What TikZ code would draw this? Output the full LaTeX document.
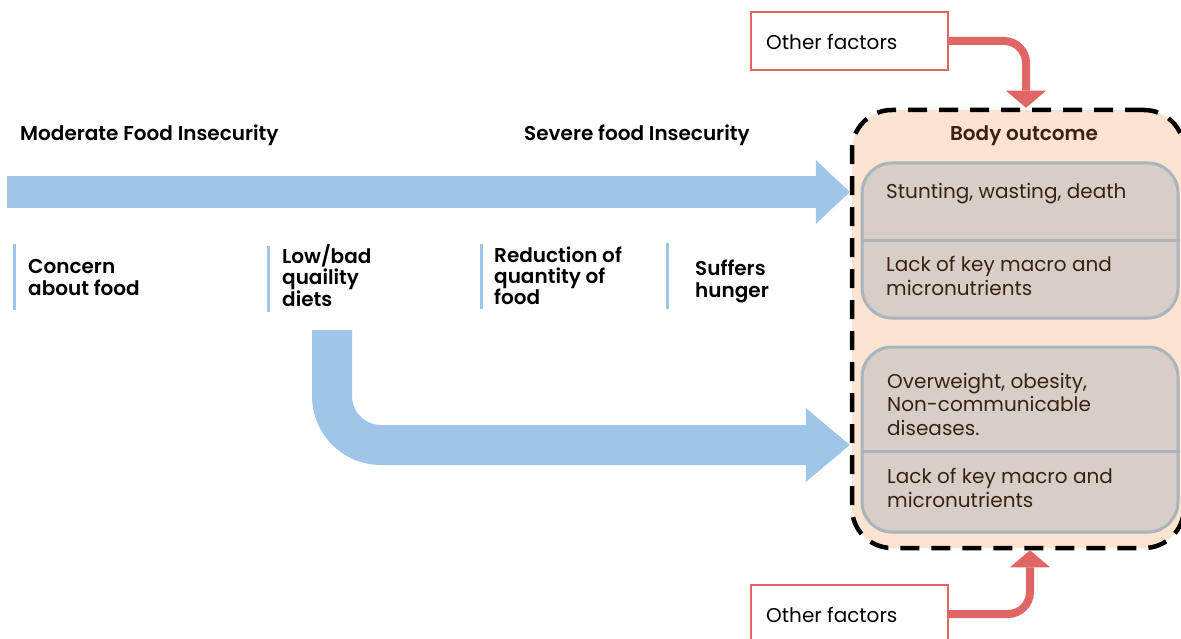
\documentclass[tikz,border=0pt]{standalone}
\usepackage{fontspec}
\setmainfont{Poppins}[BoldFont={* SemiBold}]
\usetikzlibrary{positioning, arrows.meta}
\definecolor{flowblue}{HTML}{9FC5E8}
\definecolor{factred}{HTML}{E06666}
\definecolor{peach}{HTML}{FCE4D1}
\definecolor{boxgray}{HTML}{D6CEC7}
\definecolor{edgegray}{HTML}{A9B4BE}
\definecolor{brown}{HTML}{3A2213}
\tikzset{x=1pt, y=-1pt, % pixel units, y runs downwards
font=\fontsize{20}{21.5}\selectfont,
head/.style={font=\fontsize{20}{21.5}\selectfont\bfseries, anchor=base west, inner sep=0},
label/.style={font=\fontsize{20}{21.5}\selectfont\bfseries, anchor=base west, align=left, inner sep=0},
tick/.style={flowblue, line width=3},
flow/.style={draw=flowblue, line width=#1}, % thick blue band
factor/.style={draw=factred, line width=2, fill=white, minimum width=197, minimum height=58},
redarrow/.style={draw=factred, line width=8, rounded corners=22,
  -{Triangle[length=17pt, width=40pt, line width=0pt]}},
outcome/.style={draw=edgegray, line width=3, fill=boxgray, rounded corners=30, minimum width=316},
otext/.style={text=brown, anchor=base west, align=left, inner sep=0,
  font=\fontsize{20}{23.5}\selectfont},
}

\begin{document}
\begin{tikzpicture}
  \useasboundingbox (0,0) rectangle (1181,639);

  % the body outcome frame
  \node[draw, fill=peach, line width=4.5, dash pattern=on 19pt off 12pt, rounded corners=40,
    minimum width=332, minimum height=438] (body) at (1018,329) {};
  \node[font=\fontsize{20}{21.5}\selectfont\bfseries, text=brown, anchor=base, inner sep=0]
    (bo) at (1024,141) {Body outcome};

  \node[outcome, minimum height=155] (up) at (1020,240.5) {};
  \node[outcome, minimum height=185] (low) at (1020,439.5) {};
  \draw[edgegray, line width=3] (up.west) -- (up.east);
  \draw[edgegray, line width=3] (low.west |- 0,451) -- (low.east |- 0,451);

  % base anchor = last line
  \node[otext] (u1) at (886,199) {Stunting, wasting, death};
  \node[otext] (u2) at (886,295) {Lack of key macro and\\micronutrients};
  \node[otext] (l1) at (887,435) {Overweight, obesity,\\Non-communicable\\diseases.};
  \node[otext] (l2) at (887,507) {Lack of key macro and\\micronutrients};

  % headings
  \node[head] (mod) at (20,141) {Moderate Food Insecurity};
  \node[head] (sev) at (524,141) {Severe food Insecurity};

  % stages
  \node[label] (c1) at (28,295) {Concern\\about food};
  \node[label] (c2) at (282,306) {Low/bad\\quaility\\diets};
  \node[label] (c3) at (494,305) {Reduction of\\quantity of\\food};
  \node[label] (c4) at (695,297) {Suffers\\hunger};
  \draw[tick] (14,244) -- (14,310);
  \draw[tick] (268,246) -- (268,312);
  \draw[tick] (481,244) -- (481,309);
  \draw[tick] (667,243) -- (667,309);

  % blue flows
  \coordinate (start) at (7,192);
  \coordinate (bend) at (332,330);
  \draw[flow=32, -{Triangle[length=34pt, width=64pt, line width=0pt]}]
    (start) -- (body.west |- start);
  \draw[flow=40, rounded corners=49, -{Triangle[length=44pt, width=74pt, line width=0pt]}]
    (bend) |- (body.west |- 0,445);

  % other factors
  \node[factor] (of1) at (849.5,41) {};
  \node[anchor=base west, inner sep=0] (t1) at (766,50) {Other factors};
  \node[factor] (of2) at (849.5,614) {};
  \node[anchor=base west, inner sep=0] (t2) at (766,622) {Other factors};
  \draw[redarrow] (of1.east) -| ([xshift=8pt]body.north);
  \draw[redarrow] (of2.east) -| ([xshift=12pt]body.south);
\end{tikzpicture}
\end{document}
